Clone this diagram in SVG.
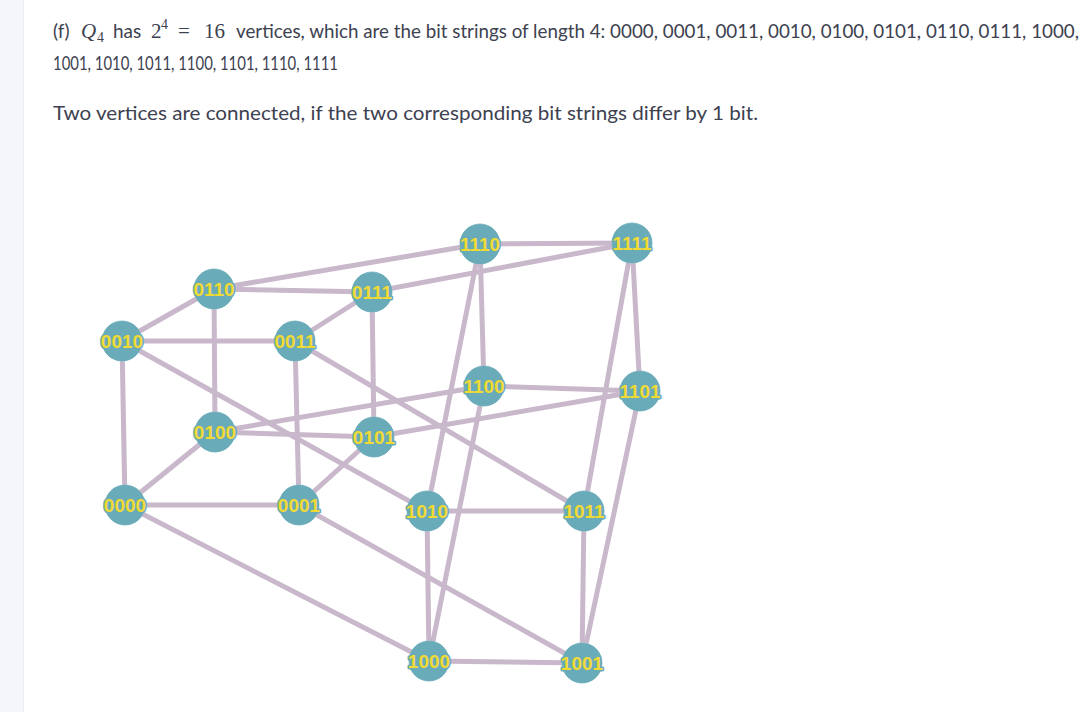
<svg xmlns="http://www.w3.org/2000/svg" width="1092" height="712" viewBox="0 0 1092 712">
<style>
.p{font-family:Lato,"Liberation Sans",sans-serif;font-size:19px;fill:#3d4150}
.m{font-family:"Liberation Serif","DejaVu Serif",serif;font-size:21px;fill:#3d4150}
.s{font-family:"Liberation Serif","DejaVu Serif",serif;font-size:14px;fill:#3d4150}
.e line{stroke:#c9b8cb;stroke-width:5;stroke-linecap:round}
.n circle{fill:#69abb8;stroke:#8cbfca;stroke-width:1}
</style>
<rect width="1092" height="712" fill="#ffffff"/>
<rect x="0" y="0" width="23" height="712" fill="#f5f6fa"/>
<line x1="23.5" y1="0" x2="23.5" y2="712" stroke="#eceef3"/>
<g id="text">
<text class="p" x="53" y="38">(f)</text>
<text class="m" x="81" y="38" font-style="italic">Q</text>
<text class="s" x="97" y="42">4</text>
<text class="p" x="113" y="38">has</text>
<text class="m" x="151" y="38">2</text>
<text class="s" x="161" y="29">4</text>
<text class="m" x="178" y="38">=</text>
<text class="m" x="204" y="38">16</text>
<text class="p" x="236" y="38" textLength="843" lengthAdjust="spacingAndGlyphs">vertices, which are the bit strings of length 4: 0000, 0001, 0011, 0010, 0100, 0101, 0110, 0111, 1000,</text>
<text class="p" x="53" y="70" textLength="285" lengthAdjust="spacingAndGlyphs">1001, 1010, 1011, 1100, 1101, 1110, 1111</text>
<text class="p" x="53" y="120" textLength="705" lengthAdjust="spacingAndGlyphs">Two vertices are connected, if the two corresponding bit strings differ by 1 bit.</text>
</g>
<g id="edges" class="e">
<line x1="125" y1="505" x2="299" y2="505"/>
<line x1="125" y1="505" x2="122" y2="341"/>
<line x1="125" y1="505" x2="215" y2="432"/>
<line x1="125" y1="505" x2="429" y2="661"/>
<line x1="299" y1="505" x2="295" y2="341"/>
<line x1="299" y1="505" x2="374" y2="437"/>
<line x1="299" y1="505" x2="582" y2="663"/>
<line x1="122" y1="341" x2="295" y2="341"/>
<line x1="122" y1="341" x2="214" y2="289"/>
<line x1="122" y1="341" x2="427" y2="511"/>
<line x1="295" y1="341" x2="372" y2="292"/>
<line x1="295" y1="341" x2="584" y2="511"/>
<line x1="215" y1="432" x2="374" y2="437"/>
<line x1="215" y1="432" x2="214" y2="289"/>
<line x1="215" y1="432" x2="484" y2="386"/>
<line x1="374" y1="437" x2="372" y2="292"/>
<line x1="374" y1="437" x2="640" y2="391"/>
<line x1="214" y1="289" x2="372" y2="292"/>
<line x1="214" y1="289" x2="480" y2="244"/>
<line x1="372" y1="292" x2="632" y2="243"/>
<line x1="429" y1="661" x2="582" y2="663"/>
<line x1="429" y1="661" x2="427" y2="511"/>
<line x1="429" y1="661" x2="484" y2="386"/>
<line x1="582" y1="663" x2="584" y2="511"/>
<line x1="582" y1="663" x2="640" y2="391"/>
<line x1="427" y1="511" x2="584" y2="511"/>
<line x1="427" y1="511" x2="480" y2="244"/>
<line x1="584" y1="511" x2="632" y2="243"/>
<line x1="484" y1="386" x2="640" y2="391"/>
<line x1="484" y1="386" x2="480" y2="244"/>
<line x1="640" y1="391" x2="632" y2="243"/>
<line x1="480" y1="244" x2="632" y2="243"/>
</g>
<g id="nodes" font-family="Liberation Sans, Arial, sans-serif" font-weight="bold" font-size="19" fill="#f2da35" stroke="#69abb8" stroke-width="3" stroke-linejoin="round" paint-order="stroke" text-anchor="middle">
<g id="n0000" class="n"><circle cx="125" cy="505" r="20"/><text x="125" y="512">0000</text></g>
<g id="n0001" class="n"><circle cx="299" cy="505" r="20"/><text x="299" y="512">0001</text></g>
<g id="n0010" class="n"><circle cx="122" cy="341" r="20"/><text x="122" y="348">0010</text></g>
<g id="n0011" class="n"><circle cx="295" cy="341" r="20"/><text x="295" y="348">0011</text></g>
<g id="n0100" class="n"><circle cx="215" cy="432" r="20"/><text x="215" y="439">0100</text></g>
<g id="n0101" class="n"><circle cx="374" cy="437" r="20"/><text x="374" y="444">0101</text></g>
<g id="n0110" class="n"><circle cx="214" cy="289" r="20"/><text x="214" y="296">0110</text></g>
<g id="n0111" class="n"><circle cx="372" cy="292" r="20"/><text x="372" y="299">0111</text></g>
<g id="n1000" class="n"><circle cx="429" cy="661" r="20"/><text x="429" y="668">1000</text></g>
<g id="n1001" class="n"><circle cx="582" cy="663" r="20"/><text x="582" y="670">1001</text></g>
<g id="n1010" class="n"><circle cx="427" cy="511" r="20"/><text x="427" y="518">1010</text></g>
<g id="n1011" class="n"><circle cx="584" cy="511" r="20"/><text x="584" y="518">1011</text></g>
<g id="n1100" class="n"><circle cx="484" cy="386" r="20"/><text x="484" y="393">1100</text></g>
<g id="n1101" class="n"><circle cx="640" cy="391" r="20"/><text x="640" y="398">1101</text></g>
<g id="n1110" class="n"><circle cx="480" cy="244" r="20"/><text x="480" y="251">1110</text></g>
<g id="n1111" class="n"><circle cx="632" cy="243" r="20"/><text x="632" y="250">1111</text></g>
</g>
</svg>
